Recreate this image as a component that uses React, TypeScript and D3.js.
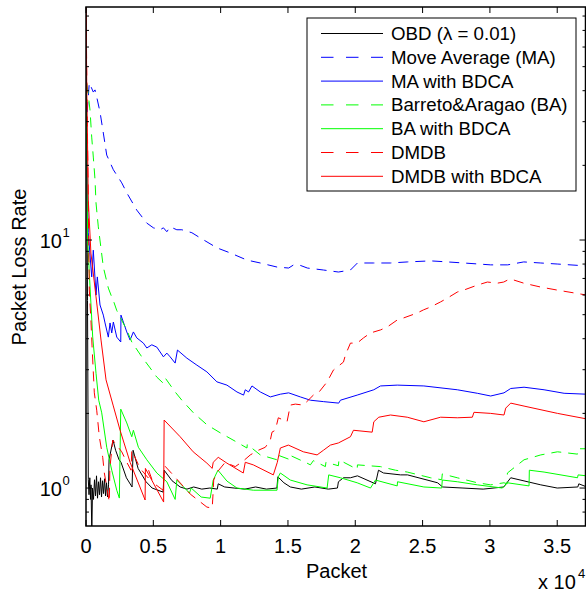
import React from 'react';
import * as d3 from 'd3';

const width = 586;
const height = 593;
const left = 86;
const right = 585.5;
const top = 7;
const bottom = 526;

// [packet, loss rate]
const obd = [
  [0, 95], [112, 5.7], [171, 1.08], [223, 0.94], [283, 1.1], [335, 0.9], [372, 1.03], [432, 0.66],
  [484, 1.0], [558, 0.9], [632, 1.08], [707, 0.93], [781, 1.12], [856, 0.91], [930, 1.06], [1004, 0.94],
  [1079, 1.1], [1153, 0.92], [1228, 1.07], [1302, 0.95], [1376, 1.09], [1451, 0.93], [1525, 1.05],
  [1600, 0.92], [1674, 1.03], [1711, 1.3], [2009, 1.56], [2200, 1.42], [2455, 1.3], [2600, 1.27],
  [3000, 1.1], [3422, 1.01], [3497, 1.42], [3870, 1.2], [4460, 1.06], [4910, 1.0], [5350, 0.98],
  [5729, 0.963], [5803, 1.18], [6390, 1.07], [6994, 1.01], [7500, 0.99], [8000, 1.01], [8600, 0.99],
  [9200, 1.0], [9750, 0.99], [9821, 1.04], [10300, 1.01], [11000, 1.0], [11800, 0.99], [12600, 1.01],
  [13400, 0.99], [14180, 1.0], [14248, 1.11], [14700, 1.05], [15178, 1.01], [16000, 0.99], [17000, 1.01],
  [18000, 0.99], [18675, 1.0], [18749, 1.06], [19121, 1.1], [19642, 1.1], [20162, 1.12], [21500, 1.04],
  [21725, 1.18], [22097, 1.15], [23360, 1.13], [23882, 1.13], [26114, 1.05], [26486, 1.01], [28000, 1.0],
  [29500, 0.99], [31025, 1.01], [31546, 1.1], [33778, 1.03], [35000, 1.0], [36530, 1.01], [36604, 1.04],
  [37200, 1.01],
];

const maDashed = [
  [0, 28], [245, 43], [543, 39.5], [670, 40.3], [796, 37.7], [1042, 32.8], [1287, 27], [1540, 22],
  [2031, 19.2], [2656, 17], [3028, 15.5], [3772, 13.2], [4516, 11.7], [5007, 11.2], [5506, 11.0],
  [5751, 11.2], [6004, 10.8], [6250, 11.3], [6748, 11.0], [7120, 11.0], [7864, 10.7], [8482, 10.2],
  [9724, 9.3], [10714, 8.87], [11956, 8.3], [12946, 8.08], [14188, 7.78], [15050, 7.71], [15422, 7.94],
  [15922, 7.9], [16442, 7.71], [17633, 7.57], [18749, 7.43], [19642, 7.57], [20162, 8.08], [21353, 8.08],
  [22618, 8.08], [23882, 8.16], [25594, 8.24], [26858, 8.16], [28049, 8.08], [30058, 7.94], [31322, 7.94],
  [32513, 8.16], [33778, 8.08], [35042, 8.0], [37200, 7.86],
];

const maBdca = [
  [0, 30], [171, 10.7], [424, 7.1], [543, 9.1], [744, 6.0], [841, 7.1], [1042, 5.47], [1287, 4.98],
  [1414, 4.63], [1659, 4.06], [1786, 4.63], [1912, 4.22], [2031, 4.67], [2284, 4.06], [2582, 3.88],
  [2597, 4.98], [3028, 4.26], [3274, 3.95], [3519, 4.26], [3772, 4.03], [4263, 3.84], [4516, 3.67],
  [4888, 3.78], [5260, 3.7], [5751, 3.38], [6004, 3.5], [6250, 3.38], [6622, 3.19], [6793, 3.6],
  [7492, 3.34], [8236, 3.13], [8980, 2.94], [9724, 2.68], [10468, 2.6], [11212, 2.44], [11703, 2.37],
  [11830, 2.49], [12075, 2.44], [12328, 2.58], [12946, 2.44], [13690, 2.33], [14434, 2.39], [15051, 2.42],
  [15922, 2.33], [16666, 2.26], [17655, 2.23], [18771, 2.2], [18898, 2.26], [20140, 2.37], [21375, 2.49],
  [21874, 2.58], [23116, 2.6], [25095, 2.58], [27580, 2.49], [29068, 2.41], [30058, 2.35], [31046, 2.42],
  [31546, 2.52], [32535, 2.55], [34023, 2.49], [35511, 2.41], [37177, 2.39],
];

const baDashed = [
  [0, 50], [74, 42.2], [171, 38.4], [298, 33.4], [424, 26], [543, 21.6], [670, 17.5], [744, 14.1],
  [915, 11.3], [1287, 7.78], [1659, 6.4], [1912, 5.89], [2031, 5.7], [2284, 5.2], [2530, 4.89],
  [3028, 4.34], [3400, 3.88], [4144, 3.38], [4762, 3.05], [5260, 2.8], [5729, 2.65], [5878, 2.78],
  [6622, 2.44], [7120, 2.26], [7983, 2.01], [8980, 1.8], [9970, 1.67], [11212, 1.53], [11956, 1.45],
  [11978, 1.5], [12946, 1.36], [14188, 1.3], [14210, 1.36], [15178, 1.3], [15215, 1.35], [16420, 1.26],
  [16666, 1.24], [16889, 1.29], [17782, 1.22], [17819, 1.27], [18749, 1.23], [18786, 1.3], [20140, 1.19],
  [20162, 1.24], [21874, 1.22], [22990, 1.18], [23860, 1.16], [25594, 1.1], [26420, 1.08], [26464, 1.14],
  [27580, 1.1], [29068, 1.05], [30058, 1.03], [31046, 1.05], [31280, 1.04], [31300, 1.15], [32535, 1.3],
  [33778, 1.36], [35020, 1.4], [36508, 1.37], [36530, 1.44], [37177, 1.44],
];

const baBdca = [
  [0, 40], [126, 10], [246, 7.35], [498, 4.06], [744, 2.9], [945, 2.26], [1168, 2.01], [1540, 1.46],
  [1912, 1.18], [2284, 0.98], [2477, 0.911], [2582, 2.08], [3028, 1.83], [3400, 1.61], [3519, 1.71],
  [3891, 1.46], [4516, 1.3], [5260, 1.15], [6004, 1.06], [6622, 0.9], [6748, 1.077], [7686, 0.955],
  [7812, 1.0], [8556, 0.92], [9226, 0.91], [9449, 1.077], [9800, 1.18], [10468, 1.067], [11212, 1.0],
  [12425, 0.98], [14188, 0.98], [14285, 1.11], [14434, 1.15], [15178, 1.077], [16420, 1.03], [17908, 1.0],
  [18027, 1.13], [18898, 1.1], [20140, 1.05], [21130, 1.0], [21500, 1.077], [23116, 1.02], [23138, 1.06],
  [25095, 1.01], [26420, 1.0], [26464, 1.077], [27580, 1.06], [29068, 1.03], [30927, 1.0], [31300, 1.05],
  [32907, 1.02], [32929, 1.18], [34023, 1.16], [36508, 1.1], [36553, 1.13], [37177, 1.12],
];

const dmdbDashed = [
  [0, 95], [60, 45], [246, 6.29], [372, 4.67], [446, 3.77], [618, 2.42], [796, 2.06], [990, 1.61],
  [1242, 1.33], [1362, 1.15], [1734, 0.878], [1771, 1.2], [1987, 1.56], [2656, 1.4], [3028, 1.27],
  [3348, 1.18], [3400, 1.42], [4018, 1.2], [4613, 1.1], [4650, 1.18], [4985, 1.05], [5729, 0.98],
  [5840, 1.23], [6398, 1.14], [7738, 0.946], [8980, 0.838], [9374, 0.83], [9426, 0.928], [9486, 1.077],
  [9746, 1.16], [10342, 1.27], [11086, 1.22], [11681, 1.285], [12202, 1.36], [12797, 1.42], [13318, 1.46],
  [13690, 1.56], [13816, 1.68], [14062, 1.71], [14285, 1.92], [14932, 1.85], [15178, 2.16], [15550, 2.18],
  [16145, 2.16], [16889, 2.37], [17261, 2.42], [17908, 2.68], [18377, 2.99], [19121, 3.22], [19270, 3.44],
  [19642, 3.84], [20140, 3.84], [20609, 4.03], [21130, 4.22], [21874, 4.34], [22372, 4.46], [23116, 4.76],
  [23585, 4.85], [24604, 5.08], [25073, 5.23], [25594, 5.37], [26338, 5.63], [26836, 5.83], [27580, 6.17],
  [28049, 6.28], [29068, 6.58], [29812, 6.77], [30556, 6.7], [31025, 6.77], [31322, 6.9], [31546, 6.96],
  [32513, 6.7], [33778, 6.46], [35020, 6.28], [37177, 6.0],
];

const dmdbBdca = [
  [0, 95], [60, 40], [171, 14.5], [365, 8.86], [744, 5.9], [1116, 3.95], [1488, 2.73], [2009, 2.16],
  [2530, 1.71], [3274, 1.27], [4390, 0.895], [4412, 1.2], [5766, 0.878], [5803, 1.88], [6994, 1.61],
  [7961, 1.4], [8980, 1.26], [9374, 1.2], [9449, 1.27], [9821, 1.33], [10468, 1.26], [11681, 1.15],
  [11830, 1.27], [12425, 1.24], [13913, 1.13], [14210, 1.27], [14434, 1.45], [15029, 1.49], [16145, 1.4],
  [17164, 1.36], [17633, 1.42], [18154, 1.49], [18749, 1.52], [19642, 1.61], [19865, 1.71], [21256, 1.68],
  [21375, 1.85], [21747, 1.93], [22618, 1.97], [23860, 1.93], [25095, 1.85], [26338, 1.93], [27580, 1.92],
  [28696, 1.93], [28815, 2.02], [30058, 2.0], [31046, 1.97], [31174, 2.1], [31546, 2.2], [32535, 2.14],
  [35020, 2.0], [37177, 1.9],
];

const series = [
  { label: 'OBD (\u03bb = 0.01)', data: obd, color: '#000000', dashed: false },
  { label: 'Move Average (MA)', data: maDashed, color: '#0000ff', dashed: true },
  { label: 'MA with BDCA', data: maBdca, color: '#0000ff', dashed: false },
  { label: 'Barreto&Aragao (BA)', data: baDashed, color: '#00ff00', dashed: true },
  { label: 'BA with BDCA', data: baBdca, color: '#00ff00', dashed: false },
  { label: 'DMDB', data: dmdbDashed, color: '#ff0000', dashed: true },
  { label: 'DMDB with BDCA', data: dmdbBdca, color: '#ff0000', dashed: false },
];

const xTicks = [0, 5000, 10000, 15000, 20000, 25000, 30000, 35000];
const xTickLabels = ['0', '0.5', '1', '1.5', '2', '2.5', '3', '3.5'];
const yMajor = [1, 10];
const yMajorExp = ['0', '1'];
const yMinor = [0.8, 0.9, 2, 3, 4, 5, 6, 7, 8, 9, 20, 30, 40, 50, 60, 70, 80];

const x = d3.scaleLinear().domain([0, 37100]).range([left, right]);
const y = d3.scaleLog().domain([0.703, 87]).range([bottom, top]);

const line = d3
  .line<number[]>()
  .x(d => x(d[0]))
  .y(d => y(d[1]));

const font = '"Liberation Sans", Arial, Helvetica, sans-serif';

export default function App() {
  return (
    <svg
      width={width}
      height={height}
      style={{ position: 'absolute', left: 0, top: 0, background: '#fff' }}
      fontFamily={font}
    >
      <defs>
        <clipPath id="plot">
          <rect x={left} y={top} width={right - left} height={bottom - top} />
        </clipPath>
      </defs>

      <g clipPath="url(#plot)">
        {series.map(s => (
          <path
            key={s.label}
            d={line(s.data) || ''}
            fill="none"
            stroke={s.color}
            strokeWidth={1}
            strokeDasharray={s.dashed ? '10,7' : undefined}
          />
        ))}
      </g>

      {/* ticks */}
      {xTicks.map(t => (
        <g key={'x' + t}>
          <line x1={x(t)} x2={x(t)} y1={bottom} y2={bottom - 6} stroke="#000" />
          <line x1={x(t)} x2={x(t)} y1={top} y2={top + 6} stroke="#000" />
        </g>
      ))}
      {yMajor.map(t => (
        <g key={'ym' + t}>
          <line x1={left} x2={left + 6} y1={y(t)} y2={y(t)} stroke="#000" />
          <line x1={right} x2={right - 6} y1={y(t)} y2={y(t)} stroke="#000" />
        </g>
      ))}
      {yMinor.map(t => (
        <g key={'yn' + t}>
          <line x1={left} x2={left + 3} y1={y(t)} y2={y(t)} stroke="#000" />
          <line x1={right} x2={right - 3} y1={y(t)} y2={y(t)} stroke="#000" />
        </g>
      ))}

      <rect
        x={left}
        y={top}
        width={right - left}
        height={bottom - top}
        fill="none"
        stroke="#000"
        strokeWidth={1.5}
      />

      {/* tick labels */}
      {xTicks.map((t, i) => (
        <text key={'xl' + t} x={x(t)} y={553} fontSize={20} textAnchor="middle">
          {xTickLabels[i]}
        </text>
      ))}
      {yMajor.map((t, i) => (
        <g key={'yl' + t}>
          <text x={62} y={y(t) + 8} fontSize={20} textAnchor="end">
            10
          </text>
          <text x={62.5} y={y(t) - 3} fontSize={13}>
            {yMajorExp[i]}
          </text>
        </g>
      ))}

      <text x={336.5} y={578} fontSize={20} textAnchor="middle">
        Packet
      </text>
      <text x={538} y={589} fontSize={20}>
        x 10
      </text>
      <text x={578} y={578} fontSize={13}>
        4
      </text>
      <text
        transform={`translate(26, 267) rotate(-90)`}
        fontSize={20}
        textAnchor="middle"
      >
        Packet Loss Rate
      </text>

      {/* legend */}
      <rect x={307} y={18} width={269} height={173} fill="#fff" stroke="#000" strokeWidth={1} />
      {series.map((s, i) => {
        const ly = 33.5 + i * 23.8;
        return (
          <g key={'lg' + s.label}>
            <line
              x1={321}
              x2={383}
              y1={ly}
              y2={ly}
              stroke={s.color}
              strokeWidth={1}
              strokeDasharray={s.dashed ? '12.5,12.5' : undefined}
            />
            <text x={391} y={ly + 6.5} fontSize={18.7}>
              {s.label}
            </text>
          </g>
        );
      })}
    </svg>
  );
}
